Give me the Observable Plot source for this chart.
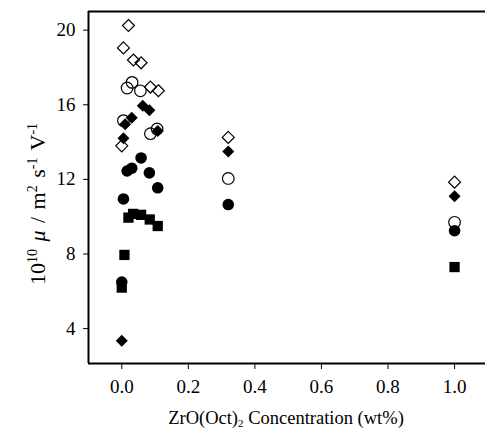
<!DOCTYPE html>
<html>
<head>
<meta charset="utf-8">
<script src="https://cdn.jsdelivr.net/npm/d3@7"></script>
<script src="https://cdn.jsdelivr.net/npm/@observablehq/plot@0.6"></script>
<style>
  html, body { margin: 0; padding: 0; background: #fff; }
</style>
</head>
<body>
<div id="chart"></div>
<script>
// ZrO(Oct)2 concentration (wt%) and mobility (10^10 m^2 s^-1 V^-1)
const openDiamondX = [0, 0.005, 0.02, 0.035, 0.058, 0.086, 0.11, 0.32, 1.0];
const openDiamondY = [13.8, 19.05, 20.25, 18.4, 18.25, 16.95, 16.75, 14.25, 11.85];

const filledDiamondX = [0, 0.005, 0.01, 0.03, 0.063, 0.083, 0.108, 0.32, 1.0];
const filledDiamondY = [3.35, 14.2, 14.95, 15.3, 15.95, 15.7, 14.6, 13.5, 11.1];

const openCircleX = [0.005, 0.016, 0.031, 0.056, 0.086, 0.106, 0.32, 1.0];
const openCircleY = [15.15, 16.9, 17.2, 16.75, 14.45, 14.7, 12.05, 9.7];

const filledCircleX = [0, 0.005, 0.016, 0.03, 0.058, 0.083, 0.108, 0.32, 1.0];
const filledCircleY = [6.5, 10.95, 12.45, 12.6, 13.15, 12.35, 11.55, 10.65, 9.25];

const squareX = [0, 0.008, 0.02, 0.034, 0.058, 0.084, 0.108, 1.0];
const squareY = [6.2, 7.95, 9.95, 10.15, 10.1, 9.85, 9.5, 7.3];

const xTicks = [0, 0.2, 0.4, 0.6, 0.8, 1.0];
const yTicks = [4, 8, 12, 16, 20];

const xDomain = [-0.1, 1.093];
const yDomain = [2.13, 21.0];

const toRows = (xs, ys) => xs.map((x, i) => ({x, y: ys[i]}));

const plot = Plot.plot({
  width: 485,
  height: 434,
  marginLeft: 88,
  marginRight: 0,
  marginTop: 11,
  marginBottom: 71,
  style: {fontFamily: "'Liberation Serif', 'DejaVu Serif', serif", fontSize: "19px", color: "#000", background: "#fff"},
  x: {domain: xDomain, ticks: xTicks, tickFormat: d3.format(".1f"), tickSize: 6, tickPadding: 10, label: null},
  y: {domain: yDomain, ticks: yTicks, tickSize: 5, tickPadding: 8, label: null},
  marks: [
    Plot.ruleY([yDomain[0]], {stroke: "#000", strokeWidth: 2}),
    Plot.ruleY([yDomain[1]], {stroke: "#000", strokeWidth: 2}),
    Plot.ruleX([xDomain[0]], {stroke: "#000", strokeWidth: 2}),
    Plot.dot(toRows(openDiamondX, openDiamondY), {x: "x", y: "y", symbol: "diamond2", r: 5.4, fill: "none", stroke: "#000", strokeWidth: 1.2}),
    Plot.dot(toRows(openCircleX, openCircleY), {x: "x", y: "y", symbol: "circle", r: 5.8, fill: "none", stroke: "#000", strokeWidth: 1.2}),
    Plot.dot(toRows(filledDiamondX, filledDiamondY), {x: "x", y: "y", symbol: "diamond2", r: 5.4, fill: "#000", stroke: "none"}),
    Plot.dot(toRows(filledCircleX, filledCircleY), {x: "x", y: "y", symbol: "circle", r: 5.8, fill: "#000", stroke: "none"}),
    Plot.dot(toRows(squareX, squareY), {x: "x", y: "y", symbol: "square", r: 5.8, fill: "#000", stroke: "none"})
  ]
});

const svg = d3.select(plot);

// y-axis title with superscripts
const yt = svg.append("text")
  .attr("transform", "translate(45,204) rotate(-90)")
  .attr("text-anchor", "middle")
  .attr("font-size", 22)
  .attr("word-spacing", 2)
  .attr("fill", "#000");
yt.append("tspan").text("10");
yt.append("tspan").attr("dy", -8).attr("font-size", 14).text("10");
yt.append("tspan").attr("dy", 8).text(" ");
yt.append("tspan").attr("font-style", "italic").text("μ");
yt.append("tspan").text(" / m");
yt.append("tspan").attr("dy", -8).attr("font-size", 14).text("2");
yt.append("tspan").attr("dy", 8).text(" s");
yt.append("tspan").attr("dy", -8).attr("font-size", 14).text("-1");
yt.append("tspan").attr("dy", 8).text(" V");
yt.append("tspan").attr("dy", -8).attr("font-size", 14).text("-1");

// x-axis title with subscript
const xt = svg.append("text")
  .attr("x", 286)
  .attr("y", 424)
  .attr("text-anchor", "middle")
  .attr("font-size", 18.5)
  .attr("fill", "#000");
xt.append("tspan").text("ZrO(Oct)");
xt.append("tspan").attr("dy", 3).attr("font-size", 11).text("2");
xt.append("tspan").attr("dy", -3).text(" Concentration (wt%)");

document.getElementById("chart").appendChild(plot);
</script>
</body>
</html>
